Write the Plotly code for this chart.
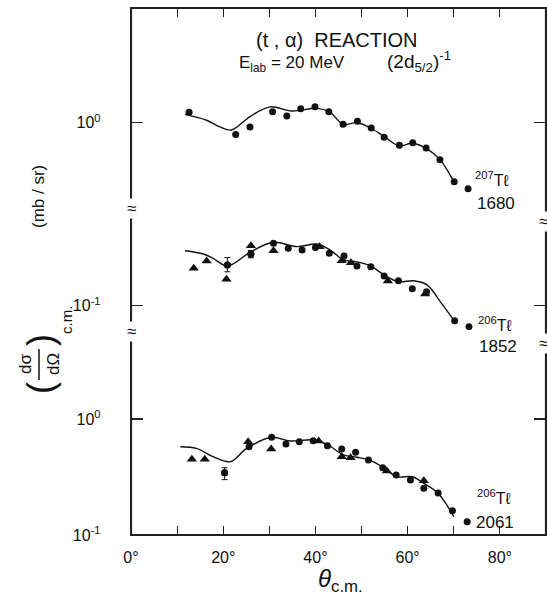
import plotly.graph_objects as go
from plotly.subplots import make_subplots

# ---------------- data (theta c.m. in degrees, cross section mb/sr) ----------------
# Top panel: 207Tl 1680
top_circ_x = [12.6, 22.7, 25.8, 30.7, 33.8, 36.8, 39.9, 42.9, 46.0, 49.1, 52.1, 54.9, 58.2, 61.1, 64.0, 67.0, 70.1, 73.1]
top_circ_y = [1.23, 0.79, 0.92, 1.24, 1.14, 1.32, 1.37, 1.24, 0.97, 1.03, 0.90, 0.75, 0.64, 0.67, 0.605, 0.48, 0.31, 0.27]
top_curve_x = [11.7, 16.4, 19.3, 21.8, 25.8, 30.2, 34.9, 40.3, 43.0, 46.0, 49.0, 52.0, 55.0, 58.2, 61.0, 64.0, 67.0, 70.0]
top_curve_y = [1.18, 1.05, 0.92, 0.865, 1.13, 1.37, 1.26, 1.33, 1.245, 0.97, 1.0, 0.90, 0.753, 0.63, 0.664, 0.60, 0.48, 0.31]

# Middle panel: 206Tl 1852
mid_circ_x = [20.9, 26.0, 30.9, 34.1, 37.1, 40.0, 43.0, 46.2, 49.0, 52.0, 54.9, 58.0, 61.0, 64.1, 70.2, 73.3]
mid_circ_y = [0.224, 0.279, 0.345, 0.313, 0.302, 0.318, 0.283, 0.268, 0.22, 0.217, 0.18, 0.164, 0.140, 0.132, 0.074, 0.066]
mid_tri_x = [13.6, 16.4, 20.7, 26.0, 30.9, 40.9, 45.7, 47.7, 55.7, 63.8]
mid_tri_y = [0.21, 0.243, 0.169, 0.329, 0.298, 0.323, 0.244, 0.235, 0.163, 0.126]
mid_err_x = [20.9, 26.0]
mid_err_y = [0.224, 0.279]
mid_err_up = [0.036, 0.02]
mid_err_dn = [0.028, 0.02]
mid_curve_x = [11.7, 15.7, 17.8, 20.9, 26.0, 30.9, 36.0, 40.3, 43.2, 46.1, 49.0, 52.0, 54.9, 58.0, 61.3, 64.2, 67.1, 70.0]
mid_curve_y = [0.298, 0.279, 0.256, 0.22, 0.292, 0.352, 0.323, 0.34, 0.302, 0.248, 0.239, 0.22, 0.184, 0.161, 0.164, 0.151, 0.108, 0.0753]

# Bottom panel: 206Tl 2061
bot_circ_x = [20.3, 25.6, 30.5, 33.6, 36.5, 39.5, 42.6, 45.7, 48.7, 51.5, 54.6, 57.5, 60.6, 63.5, 66.6, 69.7, 72.9]
bot_circ_y = [0.344, 0.577, 0.695, 0.608, 0.637, 0.65, 0.589, 0.551, 0.516, 0.443, 0.38, 0.329, 0.298, 0.253, 0.23, 0.162, 0.130]
bot_tri_x = [13.2, 16.0, 25.4, 30.4, 40.7, 45.7, 47.6, 55.5, 63.5]
bot_tri_y = [0.45, 0.45, 0.637, 0.551, 0.646, 0.473, 0.464, 0.356, 0.294]
bot_err_x = [20.3]
bot_err_y = [0.344]
bot_err_up = [0.036]
bot_err_dn = [0.044]
bot_curve_x = [10.7, 14.2, 17.8, 21.5, 25.1, 30.5, 34.5, 39.6, 42.6, 46.1, 49.0, 51.6, 54.6, 57.7, 61.0, 63.5, 66.6, 70.0]
bot_curve_y = [0.577, 0.558, 0.473, 0.428, 0.558, 0.695, 0.646, 0.659, 0.60, 0.49, 0.468, 0.444, 0.385, 0.318, 0.318, 0.279, 0.229, 0.144]

x_tick_vals = [0, 10, 20, 30, 40, 50, 60, 70, 80, 90]
x_tick_text = ["0°", "", "20°", "", "40°", "", "60°", "", "80°", ""]

bot_major = [0.1, 1]
bot_major_text = ["10<sup>-1</sup>", "10<sup>0</sup>"]
bot_minor = [0.2, 0.4, 0.6, 0.8, 2, 4]
mid_major = [0.1]
mid_major_text = ["10<sup>-1</sup>"]
mid_minor = [0.06, 0.08, 0.2, 0.4, 0.6]
top_major = [1]
top_major_text = ["10<sup>0</sup>"]
top_minor = [0.2, 0.4, 0.6, 0.8, 2, 4, 6, 8]

# ---------------- layout geometry ----------------
W, H = 547, 596
L, R, T, B = 131, 546, 8, 535
Y_BRK1, Y_BRK2 = 207, 330

def pxx(x):
    return (x - L) / (R - L)

def pxy(y):
    return (B - y) / (B - T)

FONT = "Liberation Sans"
INK = "#111111"
AX = "#222222"
LW = 1.2

row_h = [(Y_BRK1 - T) / (B - T), (Y_BRK2 - Y_BRK1) / (B - T), (B - Y_BRK2) / (B - T)]
fig = make_subplots(rows=3, cols=1, shared_xaxes=True, vertical_spacing=0, row_heights=row_h)

panels = [
    (1, top_circ_x, top_circ_y, [], [], top_curve_x, top_curve_y, [], [], [], []),
    (2, mid_circ_x, mid_circ_y, mid_tri_x, mid_tri_y, mid_curve_x, mid_curve_y,
     mid_err_x, mid_err_y, mid_err_up, mid_err_dn),
    (3, bot_circ_x, bot_circ_y, bot_tri_x, bot_tri_y, bot_curve_x, bot_curve_y,
     bot_err_x, bot_err_y, bot_err_up, bot_err_dn),
]
for row, cx, cy, tx, ty, lx, ly, ex, ey, eu, ed in panels:
    fig.add_trace(go.Scatter(x=lx, y=ly, mode="lines",
                             line=dict(color=INK, width=1.4, shape="spline", smoothing=1.0),
                             showlegend=False, hoverinfo="skip"), row=row, col=1)
    if ex:
        fig.add_trace(go.Scatter(x=ex, y=ey, mode="markers",
                                 marker=dict(color=INK, size=7, symbol="circle"),
                                 error_y=dict(type="data", array=eu, arrayminus=ed, color=INK,
                                              thickness=1, width=3),
                                 showlegend=False), row=row, col=1)
    if tx:
        fig.add_trace(go.Scatter(x=tx, y=ty, mode="markers",
                                 marker=dict(color=INK, size=9, symbol="triangle-up"),
                                 showlegend=False), row=row, col=1)
    fig.add_trace(go.Scatter(x=cx, y=cy, mode="markers",
                             marker=dict(color=INK, size=7, symbol="circle"),
                             showlegend=False), row=row, col=1)

rng_top = [-0.727, 0.989]
rng_mid = [-1.2095, -0.149]
rng_bot = [-1, 0.767]

fig.update_xaxes(range=[0, 90], showgrid=False, zeroline=False, tickmode="array",
                 tickvals=x_tick_vals, ticks="inside", ticklen=9, tickcolor=AX, tickwidth=LW,
                 linecolor=AX, linewidth=LW, showline=False, showticklabels=False)
fig.update_xaxes(row=3, col=1, showline=True, ticktext=x_tick_text, showticklabels=True,
                 tickfont=dict(family=FONT, size=16, color=INK), ticklabelstandoff=8)
fig.update_xaxes(row=2, col=1, ticks="")
fig.update_xaxes(row=1, col=1, showline=True, side="top")

fig.update_yaxes(type="log", showline=True, linecolor=AX, linewidth=LW, mirror="ticks",
                 ticks="inside", ticklen=12, tickcolor=AX, tickwidth=LW, showgrid=False,
                 zeroline=False, tickfont=dict(family=FONT, size=16, color=INK),
                 ticklabelstandoff=26, tickmode="array")
fig.update_yaxes(row=1, col=1, range=rng_top, tickvals=top_major, ticktext=top_major_text)
fig.update_yaxes(row=2, col=1, range=rng_mid, tickvals=mid_major, ticktext=mid_major_text)
fig.update_yaxes(row=3, col=1, range=rng_bot, tickvals=bot_major, ticktext=bot_major_text)

minor_y = dict(type="log", showline=False, mirror="ticks", ticks="inside", ticklen=6,
               tickcolor=AX, tickwidth=LW, showgrid=False, zeroline=False,
               showticklabels=False, tickmode="array")
fig.update_layout(
    yaxis4=dict(minor_y, anchor="x", overlaying="y", range=rng_top, tickvals=top_minor),
    yaxis5=dict(minor_y, anchor="x2", overlaying="y2", range=rng_mid, tickvals=mid_minor),
    yaxis6=dict(minor_y, anchor="x3", overlaying="y3", range=rng_bot, tickvals=bot_minor),
)

fig.update_layout(width=W, height=H, margin=dict(l=L, r=W - R, t=T, b=H - B),
                  paper_bgcolor="white", plot_bgcolor="rgba(0,0,0,0)", dragmode=False,
                  hovermode=False)

# frame of the plot area, as one rectangle placed a hair inside the plot edges
fig.add_shape(type="rect", xref="paper", yref="paper", layer="above",
              x0=pxx(L + 0.5), x1=pxx(R - 0.5), y0=pxy(B - 0.5), y1=pxy(T + 0.5),
              line=dict(color=AX, width=LW), fillcolor="rgba(0,0,0,0)")

ann = []

def add_text(x, y, text, size, angle=0, xanchor="center", yanchor="middle", bg=None, family=FONT):
    d = dict(x=pxx(x), y=pxy(y), xref="paper", yref="paper", text=text, showarrow=False,
             font=dict(family=family, size=size, color=INK), textangle=angle,
             xanchor=xanchor, yanchor=yanchor)
    if bg:
        d["bgcolor"] = bg
        d["borderpad"] = 0
    ann.append(d)

# title block
add_text(337, 40, "(t , α)  REACTION", 20)
add_text(237, 64, "E<sub>lab</sub> = 20 MeV", 17, xanchor="left")
add_text(385, 62, "(2d<sub>5/2</sub>)<sup>-1</sup>", 19, xanchor="left")

# isotope labels
add_text(473, 179, "<sup>207</sup>Tℓ", 16, xanchor="left")
add_text(475, 203, "1680", 17, xanchor="left")
add_text(476, 324, "<sup>206</sup>Tℓ", 16, xanchor="left")
add_text(477, 346, "1852", 17, xanchor="left")
add_text(475, 497, "<sup>206</sup>Tℓ", 16, xanchor="left")
add_text(474, 522, "2061", 17, xanchor="left")

# axis break marks
for bx, by in [(131, 208), (131, 331), (543, 221), (543, 343)]:
    add_text(bx, by, "≈", 17, bg="white")

# y axis title
add_text(38, 197, "(mb / sr)", 17, angle=-90)
add_text(25, 364, "dσ", 17, angle=-90)
add_text(53, 364, "dΩ", 17, angle=-90)
add_text(40, 388, "(", 36, angle=-90)
add_text(40, 340, ")", 36, angle=-90)
add_text(66, 320, "c.m.", 15, angle=-90)

# x axis title
add_text(340, 580, "<i>θ</i><sub>c.m.</sub>", 24)

fig.update_layout(annotations=ann)
fig.add_shape(type="line", xref="paper", yref="paper",
              x0=pxx(39), x1=pxx(39), y0=pxy(349), y1=pxy(380),
              line=dict(color=INK, width=1.5))

fig.write_html("out.html", config={"staticPlot": True})
